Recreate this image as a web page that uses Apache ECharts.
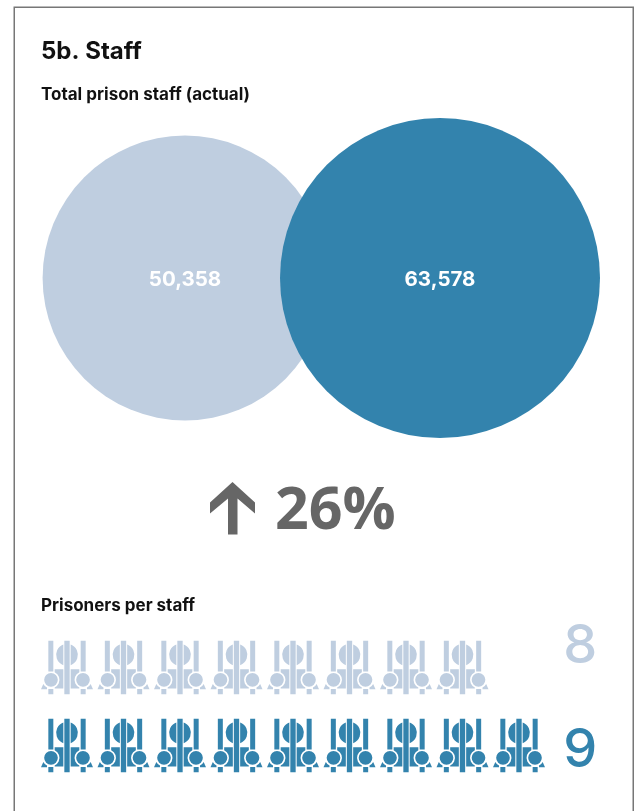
<!DOCTYPE html>
<html><head><meta charset="utf-8">
<style>html,body{margin:0;padding:0;background:#fff}#c{width:638px;height:811px}</style>
<script src="https://cdn.jsdelivr.net/npm/echarts@6/dist/echarts.min.js"></script></head>
<body><div id="c"></div>
<script>
const circleLabels = ['Before', 'After'];
const totalStaff = [50358, 63578];
const changePct = ['26%'];
const prisonersPerStaff = [8, 9];
const LIGHT = '#bfcee0', DARK = '#3383ad', INK = '#111', GREY = '#666';
const icon = 'path://M22 0H37V92H22Z M70 0H86V160H70Z M119 0H134V92H119Z M22 144H37V160H22Z M119 144H134V160H119Z'
 + ' M67 11A33 33 0 0 0 67 73Z M89 11A33 33 0 0 1 89 73Z'
 + ' M67 85L41 85L41 94A25.5 25.5 0 0 1 41 140L41 143L67 143Z'
 + ' M89 85L115 85L115 94A25.5 25.5 0 0 0 115 140L115 143L89 143Z'
 + ' M9.5 117A20.5 20.5 0 1 1 50.5 117A20.5 20.5 0 1 1 9.5 117Z'
 + ' M105.5 117A20.5 20.5 0 1 1 146.5 117A20.5 20.5 0 1 1 105.5 117Z'
 + ' M0 145L7 129A25.5 25.5 0 0 0 18 140L18 145Z'
 + ' M156 145L149 129A25.5 25.5 0 0 1 138 140L138 145Z';
const font = 'Inter';
const chart = echarts.init(document.getElementById('c'), null, {renderer: 'canvas'});
const k = 320 / Math.sqrt(63578);
chart.setOption({
  animation: false,
  backgroundColor: '#fff',
  title: [
    {text: '5b. Staff', left: 41, top: 40, padding: 0, textStyle: {fontFamily: font, fontSize: 24, fontWeight: 700, color: INK}},
    {text: 'Total prison staff (actual)', left: 41, top: 86, padding: 0, textStyle: {fontFamily: font, fontSize: 17, fontWeight: 700, color: INK}},
    {text: 'Prisoners per staff', left: 41, top: 597, padding: 0, textStyle: {fontFamily: font, fontSize: 17, fontWeight: 700, color: INK}},
    {text: changePct[0], left: 275, top: 483, padding: 0, textStyle: {fontFamily: 'Open Sans', fontSize: 59, fontWeight: 700, color: GREY}}
  ],
  grid: [
    {left: 57.5, width: 510, top: 118, height: 320},
    {left: 38.75, width: 508.5, top: 628.5, height: 156},
    {left: 38.75, width: 508.5, top: 595, height: 208}
  ],
  xAxis: [
    {gridIndex: 0, type: 'category', data: circleLabels, show: false},
    {gridIndex: 1, type: 'value', min: 0, max: 9, show: false},
    {gridIndex: 2, type: 'value', min: 0, max: 9, show: false}
  ],
  yAxis: [
    {gridIndex: 0, type: 'value', min: 0, max: 1, show: false},
    {gridIndex: 1, type: 'category', data: prisonersPerStaff.map(String), inverse: true, show: false},
    {gridIndex: 2, type: 'category', data: prisonersPerStaff.map(String), inverse: true, position: 'right',
     axisLine: {show: false}, axisTick: {show: false},
     axisLabel: {margin: 16, fontFamily: font, fontSize: 54, fontWeight: 500,
       color: (v, i) => i === 0 ? LIGHT : DARK}}
  ],
  series: [
    {type: 'scatter', xAxisIndex: 0, yAxisIndex: 0, silent: true,
     data: totalStaff.map((v, i) => ({
       value: [i, 0.5, v],
       symbolSize: k * Math.sqrt(v),
       itemStyle: {color: i === 0 ? LIGHT : DARK, opacity: 1},
       label: {show: true, position: 'inside', offset: [0, 2], formatter: v.toLocaleString('en-US'),
         fontFamily: font, fontSize: 20.5, fontWeight: 700, color: '#fff'}
     }))},
    {type: 'pictorialBar', xAxisIndex: 1, yAxisIndex: 1, silent: true,
     symbol: icon, symbolRepeat: true, symbolSize: [52, 53.5], symbolMargin: '2.25!',
     data: prisonersPerStaff.map((v, i) => ({value: v, itemStyle: {color: i === 0 ? LIGHT : DARK}}))}
  ],
  graphic: [
    {type: 'rect', silent: true, shape: {x: 14.25, y: 7.25, width: 619, height: 840},
     style: {fill: 'none', stroke: '#777', lineWidth: 1.5}},
    {type: 'polygon', silent: true, shape: {points: [[232.5,482],[255,502.5],[255,513.5],[237.5,498.5],[237.5,534.5],[228,534.5],[228,498.5],[210,513.5],[210,502.5]]},
     style: {fill: GREY}}
  ]
});
</script></body></html>
